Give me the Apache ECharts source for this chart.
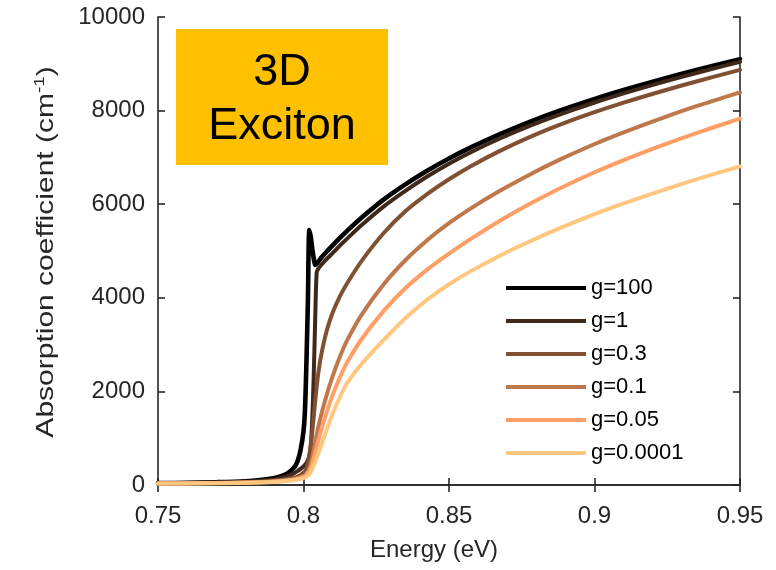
<!DOCTYPE html>
<html>
<head>
<meta charset="utf-8">
<title>3D Exciton absorption</title>
<script src="https://cdn.jsdelivr.net/npm/echarts@6/dist/echarts.min.js"></script>
<style>
  html, body { margin: 0; padding: 0; background: #ffffff; }
  #chart { width: 776px; height: 570px; }
</style>
</head>
<body>
<div id="chart"></div>
<script>
// Photon energy grid (eV), shared by every curve
const energy = [0.75, 0.76, 0.77, 0.78, 0.785, 0.79, 0.793, 0.795, 0.797, 0.798, 0.799, 0.8, 0.8005, 0.801, 0.8015, 0.802, 0.8025, 0.803, 0.8035, 0.804, 0.8045, 0.805, 0.806, 0.808, 0.81, 0.8125, 0.815, 0.82, 0.8275, 0.835, 0.8425, 0.85, 0.8575, 0.8675, 0.8775, 0.8875, 0.8985, 0.91, 0.9225, 0.935, 0.95];

// Absorption coefficient (cm^-1) for each g value
const alphaG100 = [40, 48, 60, 80, 105, 150, 205, 270, 390, 520, 750, 1150, 1600, 2600, 3900, 5450, 5300, 5050, 4850, 4700, 4730, 4765, 4850, 4990, 5120, 5280, 5430, 5715, 6099, 6425, 6716, 6977, 7213, 7498, 7756, 7988, 8219, 8440, 8662, 8868, 9100];
const alphaG1 = [36, 43, 53, 70, 88, 120, 160, 200, 260, 300, 345, 400, 430, 470, 530, 620, 850, 1400, 2300, 3500, 4520, 4615, 4695, 4830, 4955, 5115, 5265, 5555, 5949, 6285, 6591, 6865, 7111, 7403, 7668, 7905, 8141, 8367, 8594, 8804, 9040];
const alphaG03 = [33, 39, 47, 60, 72, 92, 112, 132, 160, 182, 215, 260, 300, 360, 460, 620, 850, 1130, 1450, 1780, 2080, 2350, 2750, 3300, 3680, 4030, 4310, 4790, 5380, 5850, 6217, 6534, 6813, 7140, 7428, 7683, 7933, 8169, 8403, 8622, 8870];
const alphaG01 = [31, 36, 43, 53, 63, 80, 96, 110, 133, 148, 168, 195, 215, 245, 290, 360, 460, 590, 740, 900, 1060, 1210, 1480, 1930, 2320, 2740, 3090, 3640, 4285, 4802, 5230, 5594, 5911, 6286, 6626, 6936, 7244, 7534, 7825, 8094, 8390];
const alphaG005 = [30, 35, 41, 50, 58, 73, 87, 100, 120, 133, 150, 172, 190, 215, 250, 300, 370, 460, 570, 690, 810, 930, 1160, 1560, 1920, 2300, 2620, 3120, 3716, 4204, 4602, 4945, 5258, 5648, 6000, 6320, 6639, 6941, 7241, 7519, 7830];
const alphaG00001 = [30, 34, 39, 47, 54, 66, 78, 89, 106, 117, 130, 148, 160, 176, 198, 232, 280, 340, 410, 490, 575, 660, 830, 1190, 1520, 1880, 2180, 2590, 3096, 3565, 3959, 4289, 4570, 4900, 5198, 5473, 5751, 6016, 6281, 6530, 6810];

const seriesNames = ['g=100', 'g=1', 'g=0.3', 'g=0.1', 'g=0.05', 'g=0.0001'];
const seriesValues = [alphaG100, alphaG1, alphaG03, alphaG01, alphaG005, alphaG00001];
// copper-style palette, dark to light
const seriesColors = ['#000000', '#40281A', '#805033', '#BF784C', '#FF9F66', '#FFC77F'];
const seriesWidths = [4.6, 4, 4, 4, 4, 4];

const xTicks = { min: 0.75, max: 0.95, step: 0.05 };
const yTicks = { min: 0, max: 10000, step: 2000 };

const FONT = '"Liberation Sans", Arial, Helvetica, sans-serif';
const INK = '#262626';

const chart = echarts.init(document.getElementById('chart'), null, { renderer: 'canvas' });

const series = seriesNames.map((name, i) => ({
  name: name,
  type: 'line',
  data: energy.map((e, k) => [e, seriesValues[i][k]]),
  showSymbol: false,
  symbol: 'none',
  smooth: 0.3,
  animation: false,
  lineStyle: { color: seriesColors[i], width: seriesWidths[i], cap: 'round', join: 'round' },
  itemStyle: { color: seriesColors[i] },
  z: 2 + i
}));

const boxAxisLine = { show: true, lineStyle: { color: INK, width: 1.6 } };
const innerTick = { show: true, inside: true, length: 7, lineStyle: { color: INK, width: 1.6 } };

const option = {
  backgroundColor: '#ffffff',
  animation: false,
  textStyle: { fontFamily: FONT },
  grid: { left: 158, right: 36, top: 17, bottom: 85, containLabel: false },
  xAxis: [
    {
      type: 'value', min: xTicks.min, max: xTicks.max, interval: xTicks.step,
      position: 'bottom',
      name: 'Energy (eV)', nameLocation: 'middle', nameGap: 53,
      nameTextStyle: { fontFamily: FONT, fontSize: 24, color: INK, padding: [0, 30, 0, 0] },
      axisLine: boxAxisLine, axisTick: innerTick,
      axisLabel: { fontFamily: FONT, fontSize: 24, color: INK, margin: 19,
        formatter: v => String(+v.toFixed(2)) },
      splitLine: { show: false }
    },
    {
      type: 'value', min: xTicks.min, max: xTicks.max, interval: xTicks.step,
      position: 'top',
      axisLine: boxAxisLine, axisTick: innerTick,
      axisLabel: { show: false }, splitLine: { show: false }
    }
  ],
  yAxis: [
    {
      type: 'value', min: yTicks.min, max: yTicks.max, interval: yTicks.step,
      position: 'left',
      axisLine: boxAxisLine, axisTick: innerTick,
      axisLabel: { fontFamily: FONT, fontSize: 24, color: INK, margin: 13,
        formatter: v => String(Math.round(v)) },
      splitLine: { show: false }
    },
    {
      type: 'value', min: yTicks.min, max: yTicks.max, interval: yTicks.step,
      position: 'right',
      axisLine: boxAxisLine, axisTick: innerTick,
      axisLabel: { show: false }, splitLine: { show: false }
    }
  ],
  legend: {
    orient: 'vertical',
    left: 501, top: 272,
    data: seriesNames,
    icon: 'rect',
    itemWidth: 80, itemHeight: 4,
    itemGap: 11,
    textStyle: { fontFamily: FONT, fontSize: 22, color: '#000000', lineHeight: 22 },
    selectedMode: false
  },
  graphic: [
    {
      // y-axis title, drawn slightly elongated along its reading direction
      type: 'text',
      x: 46, y: 252,
      rotation: Math.PI / 2,
      scaleX: 1.25,
      z: 100,
      style: {
        text: '{a|Absorption coefficient (cm}{s|-1}{a|)}',
        align: 'center', verticalAlign: 'middle',
        rich: {
          a: { fontFamily: FONT, fontSize: 24, fill: INK, lineHeight: 28 },
          s: { fontFamily: FONT, fontSize: 15, fill: INK, lineHeight: 15, verticalAlign: 'top' }
        }
      }
    },
    {
      type: 'group', left: 176, top: 29, z: 100,
      children: [
        { type: 'rect', shape: { x: 0, y: 0, width: 212, height: 136 }, style: { fill: '#FFC000' } },
        { type: 'text', x: 106, y: 44, style: { text: '3D', fontFamily: FONT, fontSize: 45, fill: '#000000', align: 'center', verticalAlign: 'middle' } },
        { type: 'text', x: 106, y: 98, style: { text: 'Exciton', fontFamily: FONT, fontSize: 45, fill: '#000000', align: 'center', verticalAlign: 'middle' } }
      ]
    }
  ],
  series: series
};

chart.setOption(option);
</script>
</body>
</html>
